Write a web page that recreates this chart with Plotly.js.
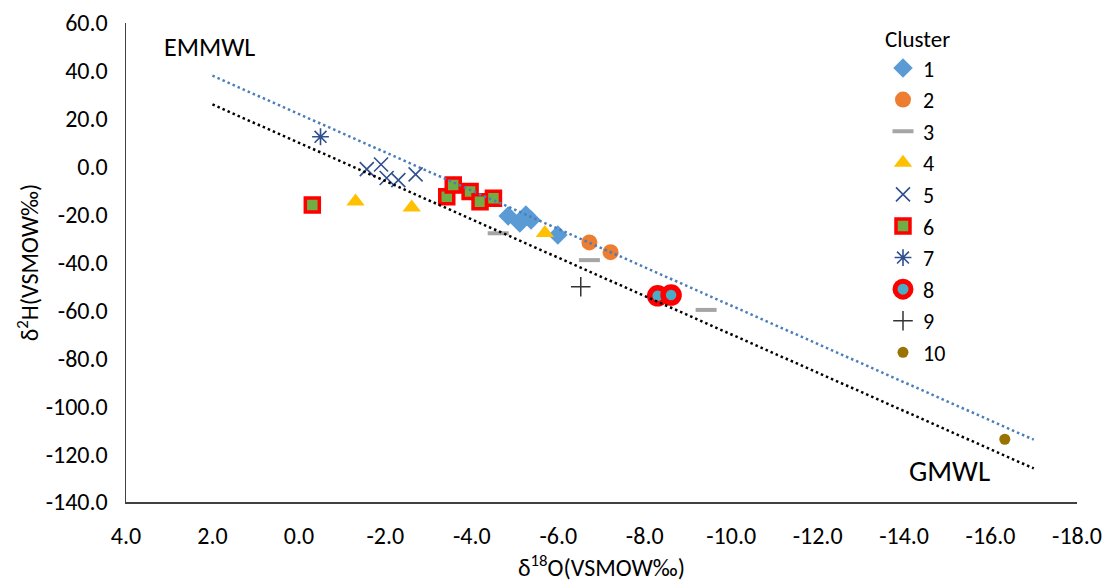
<!DOCTYPE html>
<html>
<head>
<meta charset="utf-8">
<script src="https://cdn.plot.ly/plotly-3.0.1.min.js"></script>
<style>html,body{margin:0;padding:0;background:#fff;}#chart{width:1106px;height:582px;}</style>
</head>
<body>
<div id="chart"></div>
<script>
// ---- data ----
const cluster1X = [-4.84, -5.11, -5.25, -5.37, -5.99];
const cluster1Y = [-20.6, -23.5, -20.2, -22.3, -28.5];
const cluster2X = [-6.72, -7.21];
const cluster2Y = [-31.6, -35.7];
const cluster3X = [-4.61, -6.72, -9.42];
const cluster3Y = [-27.8, -39.0, -59.8];
const cluster4X = [-1.31, -2.61, -5.69];
const cluster4Y = [-14.5, -17.0, -27.7];
const cluster5X = [-1.57, -1.90, -2.03, -2.30, -2.70];
const cluster5Y = [-1.0, 0.9, -4.7, -5.6, -3.2];
const cluster6X = [-0.31, -3.42, -3.57, -3.96, -4.19, -4.50];
const cluster6Y = [-16.0, -12.5, -7.6, -10.4, -14.6, -13.2];
const cluster7X = [-0.50];
const cluster7Y = [12.5];
const cluster8X = [-8.30, -8.61];
const cluster8Y = [-53.9, -53.6];
const cluster9X = [-6.52];
const cluster9Y = [-50.1];
const cluster10X = [-16.33];
const cluster10Y = [-113.8];

const lineX = [2, -17];
const emmwlY = [38, -114];   // δ2H = 8·δ18O + 22
const gmwlY = [26, -126];    // δ2H = 8·δ18O + 10

const xTickVals = [4, 2, 0, -2, -4, -6, -8, -10, -12, -14, -16, -18];
const xTickText = ["4.0", "2.0", "0.0", "-2.0", "-4.0", "-6.0", "-8.0", "-10.0", "-12.0", "-14.0", "-16.0", "-18.0"];
const yTickVals = [60, 40, 20, 0, -20, -40, -60, -80, -100, -120, -140];
const yTickText = ["60.0", "40.0", "20.0", "0.0", "-20.0", "-40.0", "-60.0", "-80.0", "-100.0", "-120.0", "-140.0"];

const FONT = "Carlito, Lato, sans-serif";

function pts(name, x, y, marker) {
  return {type: 'scatter', mode: 'markers', name: name, x: x, y: y, marker: marker, hoverinfo: 'x+y'};
}

const traces = [
  pts('1', cluster1X, cluster1Y, {symbol: 'diamond', size: 15, color: '#5B9BD5', line: {width: 0}}),
  pts('2', cluster2X, cluster2Y, {symbol: 'circle', size: 16, color: '#ED7D31', line: {width: 0}}),
  pts('3', cluster3X, cluster3Y, {symbol: 'line-ew-open', size: 15, color: '#A5A5A5', line: {width: 4, color: '#A5A5A5'}}),
  pts('4', cluster4X, cluster4Y, {symbol: 'triangle-up', size: 16, color: '#FFC000', line: {width: 0}}),
  pts('5', cluster5X, cluster5Y, {symbol: 'x-thin-open', size: 14, color: '#2F4F8F', line: {width: 1.6, color: '#2F4F8F'}}),
  pts('6', cluster6X, cluster6Y, {symbol: 'square', size: 14, color: '#70AD47', line: {width: 3.5, color: '#FF0000'}}),
  pts('7', cluster7X, cluster7Y, {symbol: 'asterisk-open', size: 14, color: '#2F4F8F', line: {width: 1.6, color: '#2F4F8F'}}),
  pts('8', cluster8X, cluster8Y, {symbol: 'circle', size: 16, color: '#4BACC6', line: {width: 5.5, color: '#FF0000'}}),
  pts('9', cluster9X, cluster9Y, {symbol: 'cross-thin-open', size: 14, color: '#333333', line: {width: 1.5, color: '#333333'}}),
  pts('10', cluster10X, cluster10Y, {symbol: 'circle', size: 11, color: '#997300', line: {width: 0}}),
  {type: 'scatter', mode: 'lines', name: 'EMMWL', x: lineX, y: emmwlY, showlegend: false,
   line: {color: '#4A7EBB', width: 2.5, dash: '2.5px,3px'}, hoverinfo: 'skip'},
  {type: 'scatter', mode: 'lines', name: 'GMWL', x: lineX, y: gmwlY, showlegend: false,
   line: {color: '#000000', width: 2.5, dash: '2.5px,3px'}, hoverinfo: 'skip'}
];

const layout = {
  width: 1106, height: 582,
  margin: {l: 126, r: 29, t: 23, b: 80, pad: 0},
  paper_bgcolor: '#ffffff', plot_bgcolor: '#ffffff',
  font: {family: FONT, size: 22, color: '#000000'},
  showlegend: true,
  legend: {
    x: 0.796, xanchor: 'left', y: 1.012, yanchor: 'top',
    font: {family: FONT, size: 22, color: '#000000'},
    title: {text: 'Cluster', font: {family: FONT, size: 23, color: '#000000'}},
    bgcolor: 'rgba(0,0,0,0)', tracegroupgap: 0, itemsizing: 'trace',
    maxheight: 560
  },
  xaxis: {
    range: [4, -18], autorange: false,
    tickmode: 'array', tickvals: xTickVals, ticktext: xTickText,
    showgrid: false, zeroline: false, ticks: '',
    showline: true, linecolor: '#404040', linewidth: 1.5,
    ticklabelstandoff: 12,
    tickfont: {family: FONT, size: 24, color: '#000000'},
    title: {text: 'δ<sup>18</sup>O(VSMOW‰)', font: {family: FONT, size: 24, color: '#000000'}, standoff: 8}
  },
  yaxis: {
    range: [-140, 60], autorange: false,
    tickmode: 'array', tickvals: yTickVals, ticktext: yTickText,
    showgrid: false, zeroline: false, ticks: '',
    showline: true, linecolor: '#404040', linewidth: 1.5,
    ticklabelstandoff: 12,
    tickfont: {family: FONT, size: 24, color: '#000000'},
    title: {text: 'δ<sup>2</sup>H(VSMOW‰)', font: {family: FONT, size: 24, color: '#000000'}, standoff: 0}
  },
  annotations: [
    {text: 'EMMWL', xref: 'paper', yref: 'paper', x: 0.038, y: 0.95, xanchor: 'left', yanchor: 'middle',
     showarrow: false, font: {family: FONT, size: 26, color: '#000000'}},
    {text: 'GMWL', xref: 'paper', yref: 'paper', x: 0.911, y: 0.065, xanchor: 'right', yanchor: 'middle',
     showarrow: false, font: {family: FONT, size: 29, color: '#000000'}}
  ]
};

Plotly.newPlot('chart', traces, layout, {displayModeBar: false, staticPlot: true});
</script>
</body>
</html>
